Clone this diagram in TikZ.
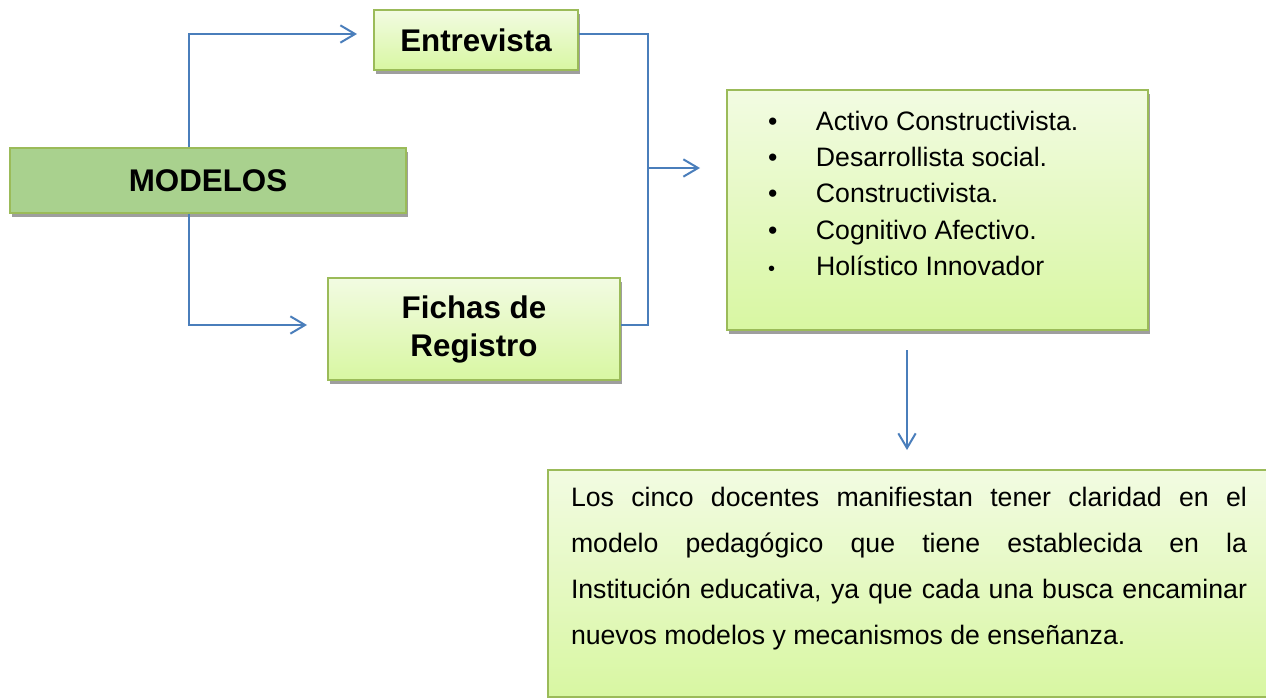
\documentclass[tikz,border=0pt]{standalone}
\usepackage{fontspec}
\setmainfont{Liberation Sans}
\usepackage{tikz}
\usetikzlibrary{arrows.meta,shadows}
\definecolor{linkblue}{RGB}{74,126,187}
\definecolor{boxline}{RGB}{155,187,89}
\definecolor{boxgreen}{RGB}{169,209,142}
\definecolor{gradtop}{RGB}{242,251,226}
\definecolor{gradbot}{RGB}{216,247,162}
\newcommand{\bul}{\makebox[36pt][l]{\textbullet}}

\begin{document}
\begin{tikzpicture}[->,>={Straight Barb[length=11pt,width=13pt]}
  ,x=0.75pt,y=-0.75pt
  ,line width=1.5pt,
  linkblue]
  \tikzstyle{box}
  =[draw=boxline,line width=1.1pt,
    drop shadow={shadow xshift=1.5pt,shadow yshift=-3pt,fill=black!38,opacity=1}]
  \tikzstyle{grad}=[box,top color=gradtop,bottom color=gradbot]
  \tikzstyle{title}=[text=black,font=\fontsize{23.5}{28.5}\selectfont\bfseries,align=center]

  \useasboundingbox (0,0) rectangle (1266,698);

  \node[box,fill=boxgreen,title,minimum width=297pt,minimum height=48.75pt]
    (modelos) at (208,180.5) {MODELOS};
  \node[grad,title,minimum width=153pt,minimum height=45pt]
    (entre) at (476,40) {Entrevista};
  \node[grad,title,minimum width=219pt,minimum height=76.5pt]
    (fichas) at (474,329) {Fichas de\\Registro};
  \node[grad,minimum width=315.75pt,minimum height=180pt]
    (lista) at (937.5,210) {};
  \node[grad,minimum width=540pt,minimum height=170.25pt]
    (concl) at (908,583.5) {};

  \node[anchor=north west,inner sep=0pt,text=black,align=left
  ,font=\fontsize{20}{27.2}\selectfont] (items) at (767,110) {%
    \bul Activo Constructivista.\\
    \bul Desarrollista social.\\
    \bul Constructivista.\\
    \bul Cognitivo Afectivo.\\
    \makebox[36pt][l]{\fontsize{15}{15}\selectfont\textbullet}Hol\'istico Innovador};

  \node[anchor=north west,inner sep=0pt,text=black,text width=507pt,align=justify
  ,font=\fontsize{20}{34.5}\selectfont] (texto) at (570,486) {\hyphenpenalty=10000\relax
    Los cinco docentes
    manifiestan tener claridad en el\linebreak modelo pedag\'ogico que tiene establecida
    en la\linebreak Instituci\'on educativa, ya que cada una busca encaminar\linebreak nuevos
    modelos y mecanismos de ense\~nanza.};

  \coordinate (tipE) at (357,34);
  \coordinate (tipF) at (307,325);
  \coordinate (bus)  at (648,168);
  \coordinate (tipL) at (700,168);
  \coordinate (vA)   at (907,350);
  \coordinate (vB)   at (907,450);

  \draw ([xshift=-14.25pt]modelos.north) |- (tipE);
  \draw ([xshift=-14.25pt]modelos.south) |- (tipF);
  \draw[-] ([yshift=4.5pt]entre.east) -| (bus) |- ([yshift=3pt]fichas.east);
  \draw (bus) -- (tipL);
  \draw (vA) -- (vB);

\end{tikzpicture}
\end{document}
